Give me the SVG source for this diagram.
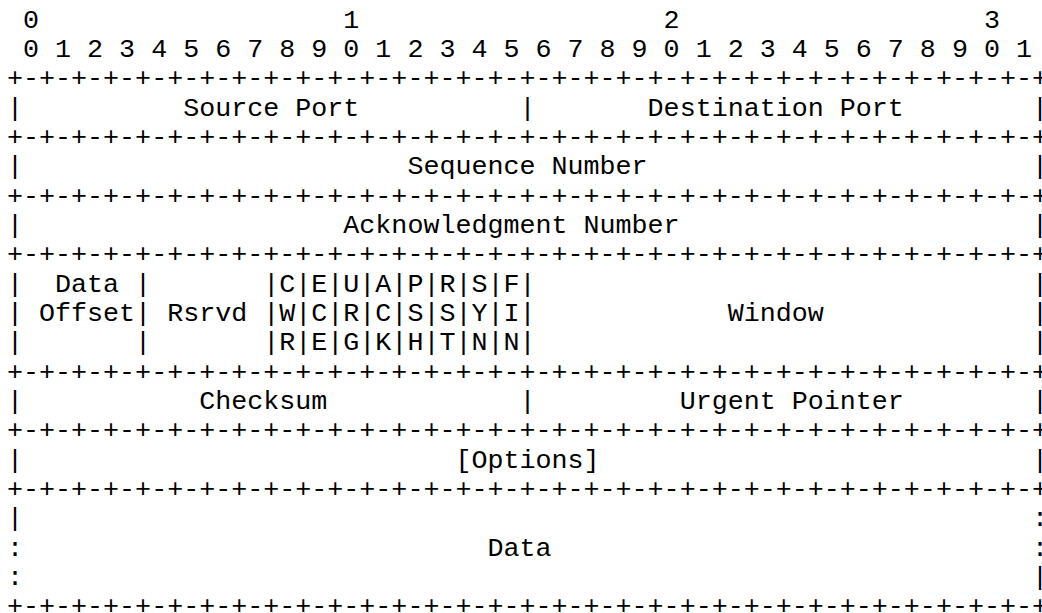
<svg xmlns="http://www.w3.org/2000/svg" width="1042" height="613" viewBox="0 0 1042 613" xml:space="preserve">
<style>
text { font-family: "Liberation Mono", "Courier New", monospace; font-size: 26.7px; fill: #000; white-space: pre; }
</style>
<rect width="1042" height="613" fill="#fff"/>
<g id="tcp-header" xml:space="preserve">
<text x="7" y="27.8"> 0                   1                   2                   3</text>
<text x="7" y="57.13"> 0 1 2 3 4 5 6 7 8 9 0 1 2 3 4 5 6 7 8 9 0 1 2 3 4 5 6 7 8 9 0 1</text>
<text x="7" y="86.47">+-+-+-+-+-+-+-+-+-+-+-+-+-+-+-+-+-+-+-+-+-+-+-+-+-+-+-+-+-+-+-+-+</text>
<text x="7" y="115.8">|          Source Port          |       Destination Port        |</text>
<text x="7" y="145.13">+-+-+-+-+-+-+-+-+-+-+-+-+-+-+-+-+-+-+-+-+-+-+-+-+-+-+-+-+-+-+-+-+</text>
<text x="7" y="174.47">|                        Sequence Number                        |</text>
<text x="7" y="203.8">+-+-+-+-+-+-+-+-+-+-+-+-+-+-+-+-+-+-+-+-+-+-+-+-+-+-+-+-+-+-+-+-+</text>
<text x="7" y="233.13">|                    Acknowledgment Number                      |</text>
<text x="7" y="262.47">+-+-+-+-+-+-+-+-+-+-+-+-+-+-+-+-+-+-+-+-+-+-+-+-+-+-+-+-+-+-+-+-+</text>
<text x="7" y="291.8">|  Data |       |C|E|U|A|P|R|S|F|                               |</text>
<text x="7" y="321.13">| Offset| Rsrvd |W|C|R|C|S|S|Y|I|            Window             |</text>
<text x="7" y="350.47">|       |       |R|E|G|K|H|T|N|N|                               |</text>
<text x="7" y="379.8">+-+-+-+-+-+-+-+-+-+-+-+-+-+-+-+-+-+-+-+-+-+-+-+-+-+-+-+-+-+-+-+-+</text>
<text x="7" y="409.13">|           Checksum            |         Urgent Pointer        |</text>
<text x="7" y="438.47">+-+-+-+-+-+-+-+-+-+-+-+-+-+-+-+-+-+-+-+-+-+-+-+-+-+-+-+-+-+-+-+-+</text>
<text x="7" y="467.8">|                           [Options]                           |</text>
<text x="7" y="497.13">+-+-+-+-+-+-+-+-+-+-+-+-+-+-+-+-+-+-+-+-+-+-+-+-+-+-+-+-+-+-+-+-+</text>
<text x="7" y="526.47">|                                                               :</text>
<text x="7" y="555.8">:                             Data                              :</text>
<text x="7" y="585.13">:                                                               |</text>
<text x="7" y="614.47">+-+-+-+-+-+-+-+-+-+-+-+-+-+-+-+-+-+-+-+-+-+-+-+-+-+-+-+-+-+-+-+-+</text>
</g>
</svg>
